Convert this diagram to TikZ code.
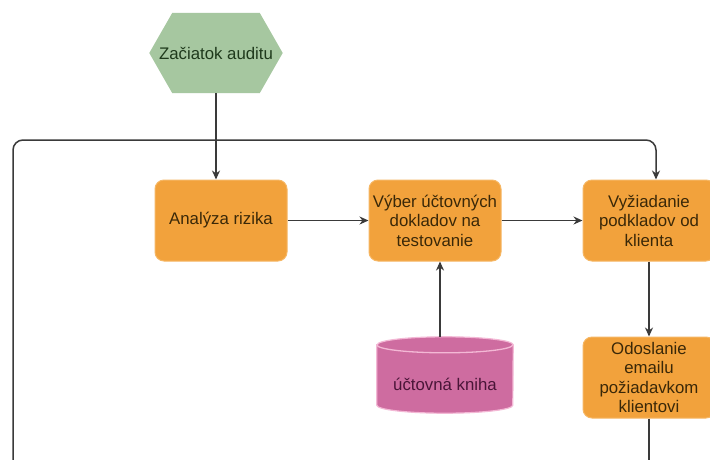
\documentclass[tikz,border=0pt]{standalone}
\usepackage{fontspec}
\setmainfont{Liberation Sans}
\usetikzlibrary{arrows.meta,calc,backgrounds}
\definecolor{boxorange}{HTML}{F2A23C}
\definecolor{boxedge}{HTML}{F6B764}
\definecolor{startgreen}{HTML}{A6C7A0}
\definecolor{dbpink}{HTML}{CE6CA0}
\definecolor{dbedge}{HTML}{F3B8D5}
\definecolor{linegray}{HTML}{3A3A3A}
\definecolor{boxtext}{HTML}{3A2808}
\definecolor{greentext}{HTML}{1F3A1C}
\definecolor{pinktext}{HTML}{4A1538}

\begin{document}
\begin{tikzpicture}[x=1pt,y=1pt,
  every node/.style={font=\fontsize{16.8}{19.5}\selectfont, text=boxtext},
  procbox/.style={rounded corners=9pt, fill=boxorange, draw=boxedge, line width=1pt,
    minimum width=132pt, minimum height=81pt, align=center, inner sep=2pt},
  conn/.style={draw=linegray, line width=1.5pt},
  flow/.style={conn, -{Stealth[length=9pt,width=8pt]}},
]
\useasboundingbox (0,0) rectangle (710,-459);
\begin{scope}[on background layer]
  \fill[white] (0,0) rectangle (710,-459);
\end{scope}

% start hexagon
\node (start) [minimum width=133pt, minimum height=80pt, inner sep=0pt, text=greentext] at (216,-53) {Začiatok auditu};
\begin{scope}[on background layer]
  \fill[startgreen] (start.west) -- ($(start.north west)+(23,0)$) -- ($(start.north east)+(-23,0)$)
    -- (start.east) -- ($(start.south east)+(-23,0)$) -- ($(start.south west)+(23,0)$) -- cycle;
\end{scope}

% process steps
\node (ana) [procbox] at (221,-220.5) {Analýza rizika};
\node (vyb) [procbox] at (435,-220.5) {Výber účtovných\\dokladov na\\testovanie};
\node (vyz) [procbox] at (649,-220.5) {Vyžiadanie\\podkladov od\\klienta};
\node (ods) [procbox] at (649,-377.5) {Odoslanie\\emailu\\požiadavkom\\klientovi};

% ledger database
\node (db) [minimum width=136pt, minimum height=76pt, inner sep=0pt] at (445,-375) {};
\fill[dbpink, draw=dbedge, line width=1.2pt] ($(db.north west)+(0,-8)$) -- ($(db.south west)+(0,8)$)
  arc[start angle=180, end angle=360, x radius=68pt, y radius=8pt]
  -- ($(db.north east)+(0,-8)$)
  arc[start angle=0, end angle=180, x radius=68pt, y radius=8pt] -- cycle;
\draw[dbedge, line width=1.3pt] ($(db.north west)+(0,-8)$)
  arc[start angle=180, end angle=360, x radius=68pt, y radius=8pt];
\node (dblabel) [text=pinktext] at (445,-384) {účtovná kniha};

% connectors
\coordinate (dbtop) at (440,-337);
\coordinate (loopstart) at (13,-470);
\coordinate (loopmid) at (300,-140);
\coordinate (vyzin) at ([xshift=7pt]vyz.north);
\coordinate (tail) at (649,-470);

\draw[flow] (start.south) -- (start.south |- ana.north);
\draw[flow] (ana.east) -- (vyb.west);
\draw[flow] (vyb.east) -- (vyz.west);
\draw[flow] (dbtop) -- (dbtop |- vyb.south);
\draw[flow] (vyz.south) -- (ods.north);
\draw[conn] (ods.south) -- (tail);
\draw[flow, rounded corners=10pt] (loopstart) |- (loopmid) -| (vyzin);
\end{tikzpicture}
\end{document}
